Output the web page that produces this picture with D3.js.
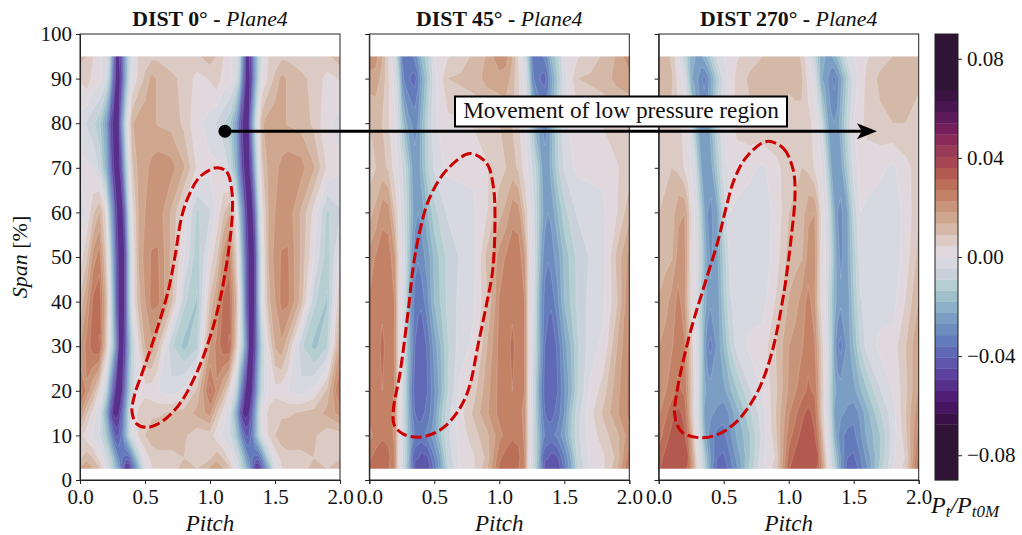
<!DOCTYPE html>
<html>
<head>
<meta charset="utf-8">
<script src="https://cdn.jsdelivr.net/npm/d3@7"></script>
<style>
  html, body { margin: 0; padding: 0; background: #fff; }
  text { font-family: "Liberation Serif", serif; fill: #111; }
  .domain { stroke: #222; }
  .tick line { stroke: #222; }
</style>
</head>
<body>
<div id="chart"></div>
<script>
// one blade pitch of data, repeated for pitch 1..2
const pitchNodes = [0, .05, .1, .15, .2, .225, .25, .275, .3, .325, .35, .375, .4, .45, .5, .55, .6, .7, .8, .9];
const spanNodes = [2.5, 5, 10, 15, 20, 30, 40, 50, 60, 70, 80, 90, 95];

// Pt/Pt0M x 1000, one row per span node (bottom to top)
const dist0Rows = [
  [15, 17, 14, 10, -1, -5, -12, -18, -26, -40, -52, -52, -42, -22, -2, 4, 7, 8, 10, 9],
  [8, 12, 9, 3, -3, -8, -15, -25, -32, -36, -38, -38, -30, -10, 2, 6, 7, 7, 9, 7],
  [7, 2, -1, -4, -14, -24, -35, -42, -40, -34, -22, -10, -1, 5, 9, 12, 13, 13, 10, 6],
  [20, 10, 3, -3, -22, -40, -50, -52, -50, -40, -25, -10, 0, 6, 8, 8, 8, 10, 11, 15],
  [29, 22, 14, 4, -8, -24, -40, -52, -53, -50, -36, -18, -7, 1, 3, 2, 0, -3, 1, 10],
  [18, 24, 30, 32, 10, -1, -12, -30, -52, -53, -46, -25, -10, 4, 14, 17, 10, -8, -15, -10],
  [10, 18, 28, 30, 14, 1, -16, -40, -52, -53, -48, -18, -1, 12, 18, 24, 24, 12, -8, -14],
  [2, 8, 20, 25, 8, -4, -22, -42, -52, -53, -48, -18, -1, 14, 20, 23, 23, 13, 0, -12],
  [-5, 1, 8, 14, 3, -15, -30, -48, -53, -53, -38, -10, 2, 14, 18, 20, 21, 13, 3, -10],
  [1, 1, 0, -6, -20, -34, -48, -52, -52, -42, -18, -2, 8, 15, 17, 19, 21, 20, 14, 4],
  [-2, -5, -8, -12, -25, -42, -50, -52, -50, -28, -8, 3, 13, 16, 17, 15, 13, 12, 8, 1],
  [5, 8, 3, 2, -3, -12, -36, -50, -52, -44, -24, -9, 0, 6, 10, 15, 13, 10, 8, 3],
  [12, 9, 5, 1, -2, -8, -30, -50, -50, -42, -24, -10, -2, 5, 7, 8, 8, 7, 6, 8]
];
const dist45Rows = [
  [28, 30, 31, 27, 22, 2, -2, -10, -20, -32, -42, -44, -45, -44, -35, -24, -10, 1, 4, 12],
  [26, 29, 31, 28, 22, 3, -2, -9, -18, -35, -40, -40, -43, -41, -32, -22, -8, 1, 4, 10],
  [21, 24, 26, 26, 21, 4, -2, -9, -18, -26, -32, -33, -33, -30, -24, -14, -6, 2, 7, 12],
  [24, 25, 26, 25, 20, 4, -2, -10, -20, -30, -36, -38, -38, -34, -27, -15, -7, 3, 10, 17],
  [24, 26, 27, 26, 22, 4, -3, -10, -22, -32, -38, -40, -40, -36, -28, -20, -10, 1, 7, 16],
  [24, 25, 28, 25, 22, 4, -1, -8, -18, -28, -36, -38, -40, -35, -25, -18, -10, -2, 1, 13],
  [23, 25, 26, 26, 22, 4, 0, -6, -18, -28, -33, -35, -35, -28, -18, -13, -8, -3, -1, 8],
  [20, 23, 25, 25, 18, 5, 0, -5, -14, -24, -30, -31, -29, -25, -17, -12, -8, -4, -2, 10],
  [12, 15, 21, 20, 8, 3, -1, -6, -12, -20, -25, -27, -26, -18, -11, -7, -4, -2, -1, 4],
  [7, 9, 11, 8, 2, -1, -4, -8, -14, -22, -26, -26, -20, -10, -4, -1, 1, 1, 1, 4],
  [9, 10, 9, 5, 0, -5, -13, -20, -25, -27, -28, -27, -20, -9, -1, 1, 3, 4, 5, 7],
  [16, 16, 12, 5, -2, -10, -28, -33, -35, -37, -38, -33, -25, -13, -2, 3, 9, 10, 11, 15],
  [22, 20, 14, 4, -5, -18, -32, -33, -33, -33, -30, -26, -18, -10, 0, 2, 4, 6, 10, 14]
];
const dist270Rows = [
  [31, 34, 35, 35, 34, 30, 24, 14, 2, -2, -8, -18, -28, -38, -40, -34, -28, -12, 0, 7],
  [29, 33, 35, 35, 35, 33, 22, 12, 1, -4, -12, -20, -27, -36, -37, -32, -26, -14, -1, 5],
  [25, 29, 33, 35, 32, 26, 18, 5, -1, -7, -20, -26, -30, -33, -33, -28, -22, -14, -3, 8],
  [22, 26, 30, 33, 30, 22, 10, 3, -3, -11, -23, -25, -26, -28, -30, -26, -20, -10, -2, 9],
  [19, 22, 25, 28, 26, 20, 10, 3, -3, -12, -21, -24, -25, -25, -24, -19, -14, -5, 0, 8],
  [18, 20, 22, 25, 23, 16, 8, 2, -3, -10, -24, -31, -33, -26, -18, -9, -3, 1, 2, 9],
  [14, 16, 20, 24, 20, 10, 3, 1, -5, -12, -20, -24, -26, -26, -14, -5, -3, -2, -2, 5],
  [11, 12, 13, 20, 20, 12, 3, 1, -3, -8, -18, -25, -28, -24, -12, -2, -2, -3, -3, 2],
  [9, 10, 11, 17, 18, 12, 4, 0, -4, -12, -22, -27, -28, -24, -8, 0, -1, -2, -2, 1],
  [7, 8, 9, 8, 4, 1, 0, -2, -12, -22, -26, -27, -25, -13, -2, 1, 2, 1, -1, 3],
  [7, 7, 8, 6, 3, 0, -4, -14, -22, -26, -27, -26, -20, -8, 0, 3, 6, 8, 9, 9],
  [10, 11, 10, 3, -2, -10, -22, -24, -27, -30, -33, -29, -24, -12, -2, 1, 6, 10, 10, 12],
  [11, 12, 8, 1, -8, -15, -20, -22, -24, -24, -20, -17, -12, -3, 0, 2, 4, 7, 9, 13]
];

const titles = ['DIST 0°', 'DIST 45°', 'DIST 270°'];
const panelRows = [dist0Rows, dist45Rows, dist270Rows];
const pitchTicks = [0, 0.5, 1, 1.5, 2];
const spanTicks = [0, 10, 20, 30, 40, 50, 60, 70, 80, 90, 100];
const barTicks = [0.08, 0.04, 0, -0.04, -0.08];

// contour levels run from -0.0675 to 0.0675 in steps of 0.0045
const levels = d3.range(-15, 16).map(k => k * 4.5);
// colour for everything below levels[0], then one per band going up
const bandColors = [
  '#2f1436', '#3a1247', '#45155f', '#4f1f76', '#57308c', '#5c419e', '#5e56ab', '#5f69b5',
  '#637bbb', '#6d8dbf', '#7a9fc2', '#8bb0c7', '#9fc0cb', '#b5ced2', '#c9d2db', '#d8d9e0',
  '#e1d8de', '#dccbc5', '#d4b9a8', '#cfa68e', '#c9957a', '#c38266', '#bb6f58', '#b35a50',
  '#a64652', '#993a56', '#8a2a5a', '#741f5c', '#5f1a5b', '#4a1650', '#3a1442', '#2f1436'
];

// red dashed outlines, [pitch, span]
const outline0 = [[1.05, 70], [1.128, 69.1], [1.167, 65], [1.172, 59.8], [1.14, 50.8], [1.077, 40.4], [1, 32], [.897, 24], [.77, 17.2],
  [.64, 13.3], [.525, 11.8], [.436, 12.6], [.4, 15.3], [.423, 19.4], [.487, 24.7], [.59, 33.6], [.68, 42.6], [.73, 50],
  [.782, 59], [.833, 63.5], [.923, 68]];
const outline45 = [[.775, 73.2], [.903, 71], [.954, 65.8], [.967, 59], [.949, 47], [.903, 39.6], [.839, 30.6], [.762, 20.2],
  [.672, 15], [.544, 11.2], [.39, 9.6], [.262, 10.3], [.192, 12.3], [.185, 15.7], [.236, 23.9], [.3, 38.1], [.338, 47.8],
  [.385, 55.3], [.46, 63], [.595, 69.5]];
const outline270 = [[.83, 75.9], [.958, 74.4], [1.035, 69.5], [1.048, 63.5], [1.023, 55.3], [.992, 47.8], [.958, 41.1], [.869, 28.4],
  [.754, 19.4], [.6, 13.1], [.446, 10.1], [.305, 9.5], [.177, 10.8], [.125, 14.2], [.138, 19.4], [.241, 32.9], [.356, 44.1],
  [.458, 53.8], [.517, 60.9], [.58, 67.3], [.677, 72.5]];
const outlines = [outline0, outline45, outline270];

// annotation arrow, [pitch, span] in the first panel
const arrowStart = [1.115, 78.2];
const arrowEnd = [6.13, 78.2];

const chartWidth = 1022, chartHeight = 535;
const panelLeft = [80, 369.3, 658.7];
const panelWidth = 260;
const plotTop = 34, plotBottom = 480;

const svg = d3.select('#chart').append('svg')
  .attr('width', chartWidth).attr('height', chartHeight)
  .style('display', 'block');

const y = d3.scaleLinear().domain([0, 100]).range([plotBottom, plotTop]);

// grid of two pitches, last column closes the period at pitch 2
const allPitch = [...pitchNodes, ...pitchNodes.map(p => p + 1), 2];
const nx = allPitch.length, ny = spanNodes.length;

panelRows.forEach((rows, idx) => {
  const x = d3.scaleLinear().domain([0, 2]).range([panelLeft[idx], panelLeft[idx] + panelWidth]);
  const g = svg.append('g');

  const values = [];
  rows.forEach(r => values.push(...r, ...r, r[0]));

  // d3.contours puts sample i at i + 0.5, map that back onto the uneven nodes
  const ix = d3.scaleLinear().domain(allPitch.map((p, i) => i + 0.5)).range(allPitch).clamp(true);
  const iy = d3.scaleLinear().domain(spanNodes.map((s, i) => i + 0.5)).range(spanNodes).clamp(true);
  const path = d3.geoPath(d3.geoTransform({
    point(a, b) { this.stream.point(x(ix(a)), y(iy(b))); }
  }));

  const contours = d3.contours().size([nx, ny]).smooth(true).thresholds(levels)(values);

  g.append('rect')
    .attr('x', x(0)).attr('y', y(95))
    .attr('width', panelWidth).attr('height', y(2.5) - y(95))
    .attr('fill', bandColors[0]);

  g.selectAll('path.band')
    .data(contours)
    .join('path')
    .attr('class', 'band')
    .attr('d', path)
    .attr('fill', (d, i) => bandColors[i + 1])
    .attr('stroke', '#fff')
    .attr('stroke-opacity', 0.28)
    .attr('stroke-width', 0.5);

  // white cover for the stroke at the field edge
  g.append('rect').attr('x', x(0)).attr('y', y(100)).attr('width', panelWidth).attr('height', y(95) - y(100)).attr('fill', '#fff');
  g.append('rect').attr('x', x(0)).attr('y', y(2.5)).attr('width', panelWidth).attr('height', y(0) - y(2.5)).attr('fill', '#fff');

  g.append('path')
    .datum(outlines[idx])
    .attr('d', d3.line().x(d => x(d[0])).y(d => y(d[1])).curve(d3.curveCatmullRomClosed.alpha(0.5)))
    .attr('fill', 'none')
    .attr('stroke', '#cc0000')
    .attr('stroke-width', 3)
    .attr('stroke-dasharray', '11,4');

  // axes
  const ax = svg.append('g').attr('transform', `translate(0,${plotBottom})`)
    .call(d3.axisBottom(x).tickValues(pitchTicks).tickSize(4).tickPadding(5).tickFormat(d3.format('.1f')));
  ax.selectAll('text').style('font-size', '21px');

  const ay = svg.append('g').attr('transform', `translate(${x(0)},0)`)
    .call(d3.axisLeft(y).tickValues(spanTicks).tickSize(4).tickPadding(4));
  ay.selectAll('text').style('font-size', '21px');
  if (idx > 0) ay.selectAll('text').remove();

  svg.append('rect')
    .attr('x', x(0)).attr('y', plotTop).attr('width', panelWidth).attr('height', plotBottom - plotTop)
    .attr('fill', 'none').attr('stroke', '#222').attr('stroke-width', 1);

  // title
  const title = svg.append('text')
    .attr('x', x(1)).attr('y', 26)
    .attr('text-anchor', 'middle').style('font-size', '21.8px');
  title.append('tspan').style('font-weight', 'bold').text(titles[idx] + ' - ');
  title.append('tspan').style('font-style', 'italic').text('Plane4');

  svg.append('text')
    .attr('x', x(1)).attr('y', 531)
    .attr('text-anchor', 'middle')
    .style('font-size', '23px').style('font-style', 'italic')
    .text('Pitch');
});

// span label
const spanLabel = svg.append('text')
  .attr('transform', `translate(27,${y(50)}) rotate(-90)`)
  .attr('text-anchor', 'middle').style('font-size', '22px');
spanLabel.append('tspan').style('font-style', 'italic').text('Span ');
spanLabel.append('tspan').text('[%]');

// colour bar
const barX = 935, barW = 23;
const barY = d3.scaleLinear().domain([-0.09, 0.09]).range([plotBottom, plotTop]);
const barEdges = [-90, ...levels, 90];
svg.append('g').selectAll('rect')
  .data(bandColors)
  .join('rect')
  .attr('x', barX).attr('width', barW)
  .attr('y', (d, i) => barY(barEdges[i + 1] / 1000))
  .attr('height', (d, i) => barY(barEdges[i] / 1000) - barY(barEdges[i + 1] / 1000) + 0.3)
  .attr('fill', d => d);
svg.append('rect')
  .attr('x', barX).attr('y', plotTop).attr('width', barW).attr('height', plotBottom - plotTop)
  .attr('fill', 'none').attr('stroke', '#222');
const barAxis = svg.append('g').attr('transform', `translate(${barX + barW},0)`)
  .call(d3.axisRight(barY).tickValues(barTicks).tickSize(4).tickPadding(5)
    .tickFormat(d => d3.format('.2f')(d).replace('-', '\u2212')));
barAxis.selectAll('text').style('font-size', '21px');
barAxis.select('.domain').remove();

const barLabel = svg.append('text')
  .attr('x', 931).attr('y', 513).style('font-size', '24px').style('font-style', 'italic');
barLabel.append('tspan').text('P');
barLabel.append('tspan').attr('dy', 4).style('font-size', '17px').text('t');
barLabel.append('tspan').attr('dy', -4).text('/P');
barLabel.append('tspan').attr('dy', 4).style('font-size', '17px').text('t0M');

// annotation
const arrowX = d3.scaleLinear().domain([0, 2]).range([panelLeft[0], panelLeft[0] + panelWidth]);
const ax0 = arrowX(arrowStart[0]), ax1 = arrowX(arrowEnd[0]), ay0 = y(arrowStart[1]);
svg.append('line')
  .attr('x1', ax0).attr('x2', ax1 - 15).attr('y1', ay0).attr('y2', ay0)
  .attr('stroke', '#000').attr('stroke-width', 3);
svg.append('path')
  .attr('d', `M${ax1},${ay0}L${ax1 - 20},${ay0 - 8}L${ax1 - 15},${ay0}L${ax1 - 20},${ay0 + 8}Z`)
  .attr('fill', '#000');
svg.append('circle').attr('cx', ax0).attr('cy', ay0).attr('r', 6.5).attr('fill', '#000');

svg.append('rect')
  .attr('x', 455).attr('y', 96.5).attr('width', 332).attr('height', 30)
  .attr('fill', '#fff').attr('stroke', '#000').attr('stroke-width', 2);
svg.append('text')
  .attr('x', 621).attr('y', 118)
  .attr('text-anchor', 'middle').style('font-size', '23.3px')
  .text('Movement of low pressure region');
</script>
</body>
</html>
